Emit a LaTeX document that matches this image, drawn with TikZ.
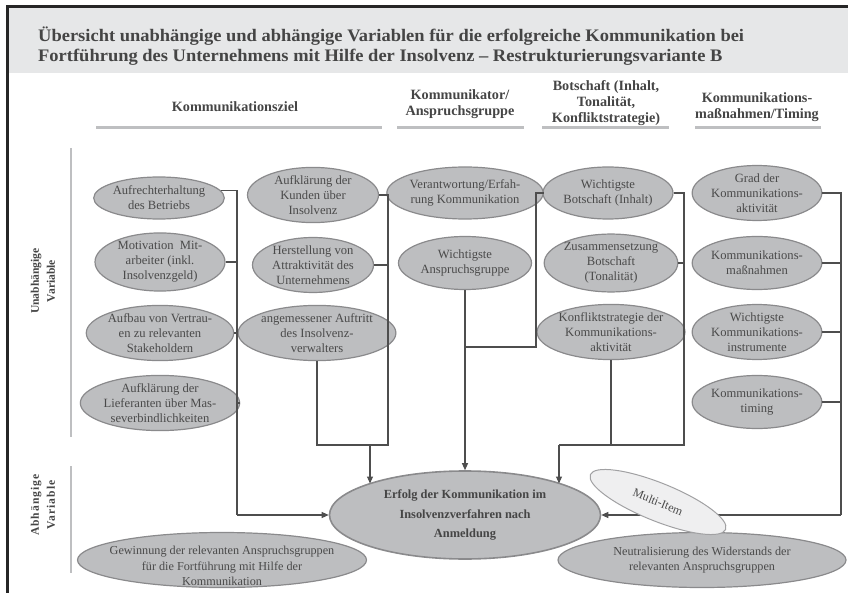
\documentclass[tikz,border=0pt]{standalone}
\usepackage{fontspec}
\setmainfont{Liberation Serif}
\newfontfamily\titlefont[FakeStretch=1.05]{Liberation Serif}
\usetikzlibrary{shapes.geometric,arrows.meta,calc}
\definecolor{band}{HTML}{E6E7E8}
\definecolor{ellfill}{HTML}{BDBEC0}
\definecolor{elldraw}{HTML}{8A8A8C}
\definecolor{elltext}{HTML}{4A4A4A}
\definecolor{conncol}{HTML}{4E4E4E}
\definecolor{hdr}{HTML}{454545}
\definecolor{uline}{HTML}{BEBFC1}
\definecolor{multifill}{HTML}{EFEFF0}
\tikzset{
  ell/.style={ellipse, draw=elldraw, fill=ellfill, line width=1.2pt, inner sep=0pt,
    align=center, text=elltext, font=\fontsize{12.6}{15}\selectfont},
  plaintext/.style={align=center, text=elltext, inner sep=0pt, font=\fontsize{12.2}{15.2}\selectfont},
  conn/.style={draw=conncol, line width=1.1pt},
  arr/.style={conn, -{Triangle[length=7pt,width=6pt]}},
  hdrtext/.style={align=center, text=hdr, font=\fontsize{14.2}{16}\selectfont\bfseries, inner sep=0pt},
  sidetext/.style={align=center, text=hdr, font=\fontsize{11.6}{16}\selectfont\bfseries, inner sep=0pt, rotate=90},
  ulinestyle/.style={draw=uline, line width=3pt},
  vlinestyle/.style={draw=uline, line width=2.5pt}
}
\begin{document}
\begin{tikzpicture}[x=1pt,y=-1pt]
\useasboundingbox (0,0) rectangle (848,593);
% frame and title band
\fill[band] (9,8) rectangle (848,73);
\draw[line width=2.5pt, black!85] (7.5,593) -- (7.5,6.5) -- (848,6.5);
\node[anchor=base west, inner sep=0pt, text=hdr, align=left,
  font=\titlefont\fontsize{17.6}{20.5}\selectfont\bfseries] (title) at (38,62)
  {Übersicht unabhängige und abhängige Variablen für die erfolgreiche Kommunikation bei\\
   Fortführung des Unternehmens mit Hilfe der Insolvenz – Restrukturierungsvariante B};
% headers
\node[hdrtext] (h1) at (235,107) {Kommunikationsziel};
\node[hdrtext] (h2) at (460,104) {Kommunikator/\\Anspruchsgruppe};
\node[hdrtext] (h3) at (606,103) {Botschaft (Inhalt,\\Tonalität,\\Konfliktstrategie)};
\node[hdrtext] (h4) at (757,107) {Kommunikations-\\maßnahmen/Timing};
\draw[ulinestyle] (96,128) -- (382,128);
\draw[ulinestyle] (397,128) -- (524,128);
\draw[ulinestyle] (542,128) -- (669,128);
\draw[ulinestyle] (695,128) -- (821,128);
% side labels
\draw[vlinestyle] (71,148) -- (71,437);
\draw[vlinestyle] (71,466) -- (71,573);
\node[sidetext] (uv) at (43,281) {Unabhängige\\Variable};
\node[sidetext, font=\fontsize{11.6}{16}\selectfont\bfseries\addfontfeatures{LetterSpace=9}] (av) at (43,505) {Abhängige\\Variable};
% column 1
\node[ell, minimum width=130pt, minimum height=42pt] (c1a) at (159,198) {Aufrechterhaltung\\des Betriebs};
\node[ell, minimum width=130pt, minimum height=52pt] (c1b) at (160,262) {Motivation\ \ Mit-\\arbeiter (inkl.\\Insolvenzgeld)};
\node[ell, minimum width=126pt, minimum height=53pt] (c1c) at (160,333) {Aufbau von Vertrau-\\en zu relevanten\\Stakeholdern};
\node[ell, minimum width=132pt, minimum height=52pt] (c1d) at (160,403) {Aufklärung der\\Lieferanten über Mas-\\severbindlichkeiten};
% column 2
\node[ell, minimum width=131pt, minimum height=48pt] (c2a) at (313,195) {Aufklärung der\\Kunden über\\Insolvenz};
\node[ell, minimum width=121pt, minimum height=49pt] (c2b) at (313,265) {Herstellung von\\Attraktivität des\\Unternehmens};
\node[ell, minimum width=132pt, minimum height=53pt] (c2c) at (317,333) {angemessener Auftritt\\des Insolvenz-\\verwalters};
% column 3
\node[ell, minimum width=132pt, minimum height=52pt] (c3a) at (465,193) {Verantwortung/Erfah-\\rung Kommunikation};
\node[ell, minimum width=133pt, minimum height=53pt] (c3b) at (465,263) {Wichtigste\\Anspruchsgruppe};
% column 4
\node[ell, minimum width=130pt, minimum height=52pt] (c4a) at (608,193) {Wichtigste\\Botschaft (Inhalt)};
\node[ell, minimum width=131pt, minimum height=53pt] (c4b) at (611,263) {Zusammensetzung\\Botschaft\\(Tonalität)};
\node[ell, minimum width=131pt, minimum height=53pt] (c4c) at (611,332) {Konfliktstrategie der\\Kommunikations-\\aktivität};
% column 5
\node[ell, minimum width=129pt, minimum height=54pt] (c5a) at (757,193) {Grad der\\Kommunikations-\\aktivität};
\node[ell, minimum width=129pt, minimum height=53pt] (c5b) at (757,263) {Kommunikations-\\maßnahmen};
\node[ell, minimum width=129pt, minimum height=53pt] (c5c) at (757,332) {Wichtigste\\Kommunikations-\\instrumente};
\node[ell, minimum width=129pt, minimum height=53pt] (c5d) at (757,402) {Kommunikations-\\timing};
% dependent variables
\node[ell, minimum width=271pt, minimum height=88pt, line width=1.6pt,
  font=\fontsize{12.4}{19.5}\selectfont\bfseries, text=hdr] (erf) at (465,515)
  {Erfolg der Kommunikation im\\Insolvenzverfahren nach\\Anmeldung};
\node[ell, minimum width=289pt, minimum height=55pt] (gew) at (222,560) {};
\node[plaintext] (gewt) at (222,566)
  {Gewinnung der relevanten Anspruchsgruppen\\für die Fortführung mit Hilfe der\\Kommunikation};
\node[ell, minimum width=288pt, minimum height=55pt, font=\fontsize{12.2}{15.2}\selectfont] (neu) at (702,560)
  {Neutralisierung des Widerstands der\\relevanten Anspruchsgruppen};
% bus coordinates
\coordinate (b1) at (237,515);
\coordinate (b2) at (388,445);
\coordinate (a2) at (370,445);
\coordinate (b3) at (536,347);
\coordinate (b4) at (684,445);
\coordinate (a4) at (559,445);
\coordinate (b5) at (841,515);
% column 1 connectors
\draw[conn] (c1a.7) -| (b1);
\draw[conn] (c1b.east) -- (c1b.east -| b1);
\draw[conn] (c1c.east) -- (c1c.east -| b1);
\draw[conn] (c1d.east) -- (c1d.east -| b1);
\draw[arr] (b1) -- (erf.west);
% column 2 connectors
\draw[conn] (c2a.east) -| (b2) -- (c2c.south |- b2) -- (c2c.south);
\draw[conn] (c2b.east) -- (c2b.east -| b2);
\draw[arr] (a2) -- (a2 |- erf.162);
% column 3 connectors
\draw[conn] (c3a.east) -| (b3) -- (b3 -| c3b.south);
\draw[arr] (c3b.south) -- (erf.north);
% column 4 connectors
\draw[conn] (c4a.east) -| (b4) -- (a4);
\draw[conn] (c4b.east) -- (c4b.east -| b4);
\draw[conn] (c4c.south) -- (c4c.south |- b4);
\draw[arr] (a4) -- (a4 |- erf.18);
% column 5 connectors
\draw[conn] (c5a.east) -| (b5);
\draw[conn] (c5b.east) -- (c5b.east -| b5);
\draw[conn] (c5c.east) -- (c5c.east -| b5);
\draw[conn] (c5d.east) -- (c5d.east -| b5);
\draw[arr] (b5) -- (erf.east);
% multi-item
\node[ellipse, draw=elldraw!80, fill=multifill, line width=1pt, inner sep=0pt,
  minimum width=146pt, minimum height=38pt, rotate=-22, text=elltext,
  font=\fontsize{12}{14}\selectfont] (mi) at (658,502) {Multi-Item};
\end{tikzpicture}
\end{document}
